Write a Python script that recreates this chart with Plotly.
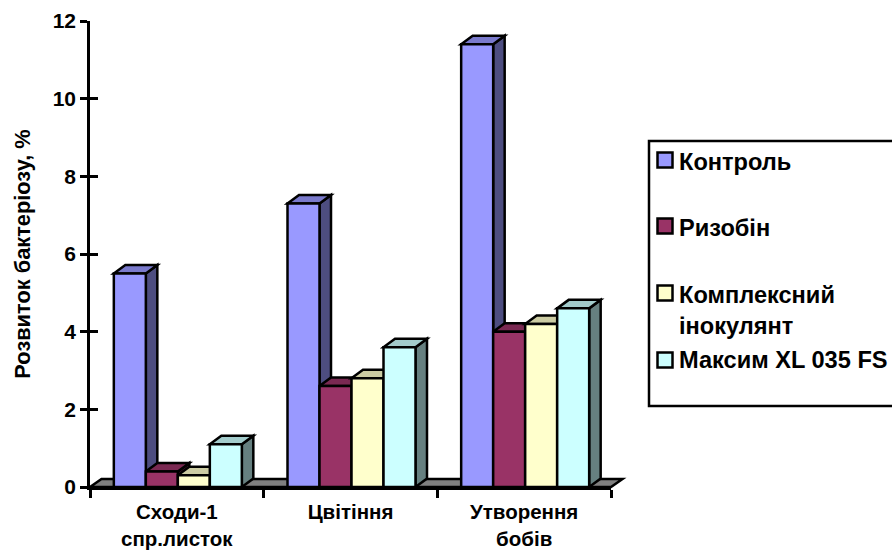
import plotly.graph_objects as go

categories = ["Сходи-1<br>спр.листок", "Цвітіння", "Утворення<br>бобів"]
series_names = ["Контроль", "Ризобін", "Комплексний<br>інокулянт", "Максим XL 035 FS"]
control = [5.5, 7.3, 11.4]
rizobin = [0.4, 2.6, 4.0]
complex_inoc = [0.3, 2.8, 4.2]
maxim = [1.1, 3.6, 4.6]
y_ticks = [0, 2, 4, 6, 8, 10, 12]
front_colors = ["#9999FF", "#993366", "#FFFFCC", "#CCFFFF"]
top_colors = ["#7A7ACC", "#7A2952", "#CCCCA3", "#A3CCCC"]
side_colors = ["#4D4D80", "#4D1A33", "#808066", "#668080"]

W, H = 892, 551
L, R, T, B = 90, 611, 21, 487
UNIT = (R - L) / 3
BAR_W = 32 / UNIT
SHIFT = 1 / UNIT
DX = 11.5 / UNIT
DY = 8.5 / ((B - T) / 12)
FONT = "Liberation Sans"
LW = 2.5
all_series = [control, rizobin, complex_inoc, maxim]


def px(x):
    return (x - L) / (R - L)


def py(y):
    return (B - y) / (B - T)


def bold(size):
    return dict(family=FONT, size=size, color="black", weight=700)


shapes = [dict(type="path", xref="paper", yref="paper", layer="below",
               path=f"M{px(L)},{py(B)} L{px(L + 11.5)},{py(B - 8)} L{px(R + 11.5)},{py(B - 8)} L{px(R)},{py(B)} Z",
               fillcolor="#808080", line=dict(color="black", width=LW))]

fig = go.Figure()
for g in range(3):
    for s, vals in enumerate(all_series):
        x0 = g + 0.5 + SHIFT + (s - 2) * BAR_W
        x1 = x0 + BAR_W
        v = vals[g]
        shapes.append(dict(type="path", xref="x", yref="y", layer="below",
                           path=f"M{x1},0 L{x1 + DX},{DY} L{x1 + DX},{v + DY} L{x1},{v} Z",
                           fillcolor=side_colors[s], line=dict(color="black", width=LW)))
        shapes.append(dict(type="path", xref="x", yref="y", layer="below",
                           path=f"M{x0},{v} L{x0 + DX},{v + DY} L{x1 + DX},{v + DY} L{x1},{v} Z",
                           fillcolor=top_colors[s], line=dict(color="black", width=LW)))

for s, vals in enumerate(all_series):
    fig.add_bar(x=[g + 0.5 + SHIFT + (s - 1.5) * BAR_W for g in range(3)], y=vals, width=BAR_W,
                name=series_names[s].replace("<br>", " "),
                marker=dict(color=front_colors[s], line=dict(color="black", width=LW)),
                showlegend=False)

fig.add_scatter(x=[0], y=[0], yaxis="y2", mode="markers", marker=dict(opacity=0), showlegend=False, hoverinfo="skip")

# legend box, swatches and labels
annotations = []
shapes.append(dict(type="rect", xref="paper", yref="paper", x0=px(649), x1=px(910), y0=py(406), y1=py(141),
                   line=dict(color="black", width=LW), fillcolor="rgba(0,0,0,0)"))
leg_y = [160, 226, 293, 360]
text_top = [147, 213, 280, 345]
for s, name in enumerate(series_names):
    shapes.append(dict(type="rect", xref="paper", yref="paper", x0=px(657.5), x1=px(672.5),
                       y0=py(leg_y[s] + 7.5), y1=py(leg_y[s] - 7.5),
                       fillcolor=front_colors[s], line=dict(color="black", width=LW)))
    annotations.append(dict(xref="paper", yref="paper", x=px(677), y=py(text_top[s]), text=name, align="left",
                            xanchor="left", yanchor="top", showarrow=False, font=bold(23.6)))

fig.update_layout(
    width=W, height=H, showlegend=False, barmode="overlay",
    margin=dict(l=L, r=W - R, t=T, b=H - B, autoexpand=False),
    paper_bgcolor="white", plot_bgcolor="white",
    font=dict(family=FONT, color="black"),
    shapes=shapes, annotations=annotations,
    xaxis=dict(range=[0, 3], tickmode="array", tickvals=[0.5, 1.5, 2.5], ticktext=categories,
               ticks="", showgrid=False, zeroline=False, showline=True, linecolor="black", linewidth=LW,
               tickfont=bold(20.5), tickangle=0, ticklabelstandoff=5,
               minor=dict(tickmode="array", tickvals=[0, 1, 2, 3], ticks="outside", ticklen=8, tickwidth=LW,
                          tickcolor="black", showgrid=False)),
    yaxis=dict(range=[0, 12], tickmode="array", tickvals=y_ticks, ticks="outside", ticklen=7, tickwidth=LW,
               tickcolor="black", showgrid=False, zeroline=False, showline=True, linecolor="black", linewidth=LW,
               tickfont=bold(21),
               title=dict(text="Розвиток бактеріозу, %", font=bold(21.8), standoff=17)),
    yaxis2=dict(range=[0, 12], overlaying="y", side="left", anchor="x", tickmode="array", tickvals=y_ticks,
                ticks="inside", ticklen=8, tickwidth=LW, tickcolor="black", showticklabels=False,
                showgrid=False, zeroline=False, showline=False),
)
fig.write_html("out.html", post_script="document.body.style.margin='0';", config=dict(displayModeBar=False))
